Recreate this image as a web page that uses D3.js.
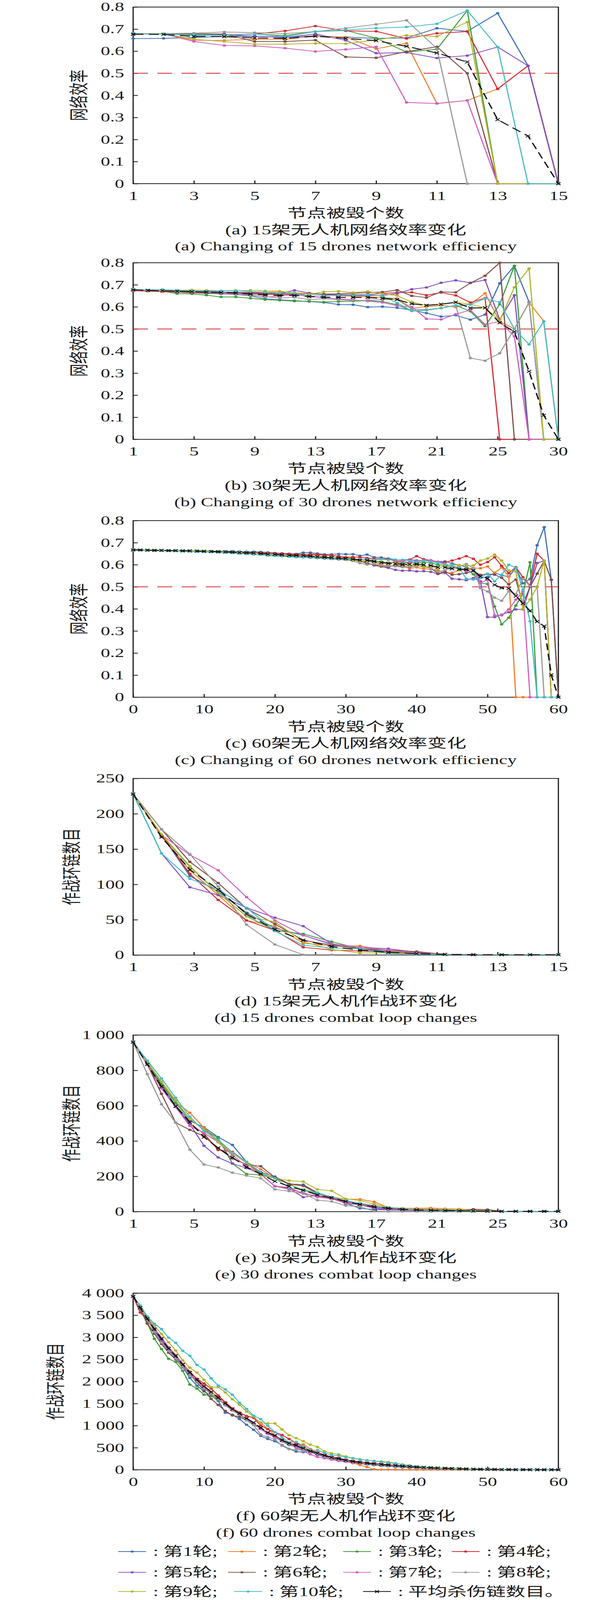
<!DOCTYPE html>
<html>
<head>
<meta charset="utf-8">
<script src="https://cdn.jsdelivr.net/npm/d3@7"></script>
<style>
  html, body { margin: 0; padding: 0; background: #fff; overflow: hidden; }
  svg { display: block; }
  svg text { font-family: "Liberation Serif", "Times New Roman", "Noto Sans CJK SC", serif; fill: #1a1a1a; }
</style>
</head>
<body>
<div id="chart"></div>
<script>
// ---- data ----
const rounds = ['第1轮', '第2轮', '第3轮', '第4轮', '第5轮', '第6轮', '第7轮', '第8轮', '第9轮', '第10轮'];
const avgLabel = '平均杀伤链数目。';
const colors = ['#3c6fb4', '#f27c2a', '#3c9e3c', '#d42a30', '#8150be', '#7d4c47', '#d05ec4', '#989898', '#b3b42b', '#46bcc9'];

const xLabels15 = ['1', '3', '5', '7', '9', '11', '13', '15'];
const xLabels30 = ['1', '5', '9', '13', '17', '21', '25', '30'];
const xLabels60 = ['0', '10', '20', '30', '40', '50', '60'];
const xTicks15 = [1, 3, 5, 7, 9, 11, 13, 15];
const xTicks60 = [0, 10, 20, 30, 40, 50, 60];

const yTicksEff = [0, 0.1, 0.2, 0.3, 0.4, 0.5, 0.6, 0.7, 0.8];
const yLabelsEff = ['0', '0.1', '0.2', '0.3', '0.4', '0.5', '0.6', '0.7', '0.8'];
const yTicksLoop15 = [0, 50, 100, 150, 200, 250];
const yLabelsLoop15 = ['0', '50', '100', '150', '200', '250'];
const yTicksLoop30 = [0, 200, 400, 600, 800, 1000];
const yLabelsLoop30 = ['0', '200', '400', '600', '800', '1 000'];
const yTicksLoop60 = [0, 500, 1000, 1500, 2000, 2500, 3000, 3500, 4000];
const yLabelsLoop60 = ['0', '500', '1 000', '1 500', '2 000', '2 500', '3 000', '3 500', '4 000'];

// (a) network efficiency, 15 drones (nodes destroyed 1..15)
const effA = [
  [0.657,0.658,0.662,0.667,0.668,0.664,0.669,0.664,0.658,0.660,0.704,0.690,0.772,0.534,0],
  [0.680,0.679,0.649,0.649,0.654,0.654,0.668,0.664,0.611,0.636,0.363,0.377,0.429,0.534,0],
  [0.680,0.679,0.672,0.672,0.678,0.671,0.689,0.694,0.659,0.596,0.609,0.784,0,0,0],
  [0.678,0.679,0.678,0.674,0.678,0.692,0.714,0.692,0.690,0.657,0.681,0.689,0.429,0.534,0],
  [0.680,0.679,0.676,0.674,0.668,0.662,0.678,0.649,0.591,0.594,0.569,0.580,0.619,0.534,0],
  [0.680,0.679,0.679,0.678,0.644,0.644,0.650,0.574,0.570,0.598,0.620,0.500,0,0,0],
  [0.680,0.679,0.644,0.626,0.624,0.614,0.599,0.608,0.620,0.368,0.363,0.377,0,0,0],
  [0.680,0.680,0.682,0.687,0.684,0.680,0.689,0.704,0.722,0.740,0.612,0,0,0,0],
  [0.680,0.680,0.654,0.644,0.632,0.632,0.635,0.634,0.651,0.672,0.667,0.732,0,0,0],
  [0.680,0.678,0.676,0.672,0.678,0.666,0.689,0.696,0.704,0.710,0.724,0.784,0.619,0,0]
];
const effAAvg = [0.677,0.676,0.667,0.666,0.660,0.658,0.668,0.658,0.648,0.622,0.592,0.551,0.290,0.216,0];

// (b) network efficiency, 30 drones
const effB = [
  [0.676,0.675,0.672,0.667,0.664,0.661,0.659,0.656,0.650,0.636, 0.632,0.628,0.624,0.620,0.611,0.610,0.599,0.601,0.596,0.585, 0.572,0.556,0.562,0.542,0.565,0.707,0.786,0.622,0,0],
  [0.675,0.673,0.671,0.669,0.668,0.667,0.666,0.665,0.666,0.667, 0.667,0.664,0.660,0.657,0.652,0.648,0.645,0.642,0.638,0.594, 0.601,0.607,0.599,0.612,0.662,0.534,0.500,0.620,0.535,0],
  [0.675,0.673,0.671,0.660,0.659,0.653,0.645,0.645,0.639,0.633, 0.630,0.626,0.625,0.622,0.624,0.626,0.628,0.624,0.610,0.581, 0.585,0.594,0.607,0.580,0.512,0.612,0.786,0,0,0],
  [0.673,0.671,0.669,0.667,0.665,0.663,0.661,0.659,0.659,0.657, 0.657,0.657,0.659,0.657,0.655,0.655,0.656,0.661,0.665,0.666, 0.653,0.665,0.652,0.620,0.640,0,0,0,0,0],
  [0.676,0.675,0.673,0.672,0.670,0.670,0.667,0.666,0.665,0.662, 0.660,0.675,0.663,0.655,0.650,0.652,0.650,0.652,0.660,0.680, 0.688,0.709,0.720,0.709,0.722,0.542,0.653,0,0,0],
  [0.676,0.675,0.673,0.671,0.669,0.667,0.665,0.664,0.662,0.661, 0.660,0.659,0.658,0.658,0.659,0.662,0.665,0.667,0.676,0.650, 0.642,0.668,0.666,0.708,0.741,0.800,0,0,0,0],
  [0.675,0.674,0.672,0.670,0.668,0.666,0.664,0.661,0.655,0.644, 0.649,0.657,0.647,0.642,0.636,0.632,0.626,0.620,0.605,0.600, 0.546,0.543,0.567,0.586,0.520,0.534,0.467,0,0,0],
  [0.676,0.674,0.672,0.670,0.668,0.665,0.662,0.656,0.653,0.646, 0.640,0.643,0.633,0.638,0.632,0.629,0.630,0.634,0.634,0.590, 0.588,0.594,0.607,0.368,0.356,0.390,0.500,0.620,0,0],
  [0.677,0.675,0.673,0.675,0.677,0.675,0.673,0.673,0.675,0.673, 0.671,0.663,0.657,0.668,0.671,0.665,0.670,0.659,0.651,0.622, 0.607,0.612,0.620,0.612,0.596,0.538,0.689,0.774,0,0],
  [0.679,0.677,0.679,0.675,0.673,0.671,0.673,0.675,0.669,0.667, 0.661,0.661,0.649,0.651,0.653,0.653,0.655,0.649,0.618,0.582, 0.586,0.594,0.607,0.610,0.638,0.621,0.500,0.430,0.534,0]
];
const effBAvg = [0.677,0.675,0.673,0.671,0.669,0.667,0.665,0.663,0.658,0.654, 0.652,0.652,0.647,0.644,0.643,0.643,0.642,0.639,0.633,0.614, 0.607,0.612,0.621,0.595,0.596,0.528,0.487,0.308,0.109,0];

// (c) network efficiency, 60 drones (nodes destroyed 0..60)
const effC = [
  [0.668,0.667,0.667,0.666,0.665,0.665,0.664,0.664,0.663,0.663,0.662,0.662,0.661,0.661,0.661,0.660,0.659,0.659,
   0.658,0.656,0.653,0.652,0.650,0.649,0.655,0.655,0.651,0.647,0.647,0.649,0.648,0.648,0.641,0.646,0.634,0.633,0.628,0.623,0.622,0.623,
   0.620,0.619,0.620,0.614,0.615,0.606,0.598,0.590,0.575,0.540,0.545,0.564,0.552,0.546,0.586,0.516,0.535,0.688,0.770,0.532,0],
  [0.667,0.667,0.666,0.665,0.665,0.664,0.663,0.663,0.662,0.661,0.660,0.659,0.658,0.657,0.656,0.655,0.654,0.653,
   0.651,0.649,0.648,0.646,0.645,0.644,0.643,0.643,0.645,0.643,0.641,0.640,0.632,0.628,0.624,0.620,0.612,0.600,0.596,0.594,0.592,0.584,
   0.588,0.582,0.580,0.576,0.562,0.564,0.575,0.582,0.585,0.584,0.592,0.562,0.588,0.546,0,0,0,0,0,0,0],
  [0.668,0.667,0.667,0.666,0.666,0.665,0.665,0.664,0.664,0.663,0.662,0.661,0.660,0.659,0.658,0.656,0.655,0.654,
   0.652,0.649,0.648,0.646,0.644,0.642,0.641,0.639,0.637,0.635,0.633,0.631,0.629,0.626,0.623,0.621,0.617,0.613,0.610,0.610,0.607,0.610,
   0.609,0.611,0.609,0.600,0.598,0.588,0.581,0.581,0.557,0.517,0.513,0.411,0.330,0.360,0.415,0.470,0.611,0,0,0,0],
  [0.667,0.667,0.666,0.665,0.665,0.664,0.663,0.663,0.662,0.662,0.661,0.660,0.659,0.658,0.657,0.656,0.655,0.655,
   0.655,0.652,0.652,0.651,0.649,0.648,0.646,0.648,0.647,0.644,0.642,0.638,0.634,0.635,0.634,0.630,0.628,0.627,0.625,0.617,0.617,0.623,
   0.639,0.625,0.620,0.612,0.611,0.619,0.628,0.639,0.627,0.600,0.612,0.634,0.595,0.562,0.589,0.543,0.506,0.650,0.618,0,0],
  [0.667,0.666,0.666,0.665,0.664,0.664,0.663,0.663,0.662,0.661,0.660,0.659,0.658,0.657,0.656,0.655,0.654,0.653,
   0.651,0.648,0.647,0.645,0.643,0.641,0.640,0.638,0.635,0.633,0.630,0.628,0.625,0.622,0.616,0.610,0.597,0.592,0.586,0.577,0.573,0.574,
   0.570,0.571,0.568,0.558,0.564,0.537,0.534,0.530,0.540,0.525,0.363,0.363,0.374,0.385,0.398,0.398,0.500,0.608,0.618,0,0],
  [0.667,0.666,0.666,0.665,0.664,0.663,0.663,0.662,0.661,0.660,0.659,0.658,0.657,0.656,0.655,0.654,0.653,0.652,
   0.650,0.646,0.644,0.642,0.638,0.636,0.634,0.632,0.630,0.628,0.626,0.624,0.622,0.620,0.617,0.606,0.600,0.592,0.590,0.598,0.593,0.590,
   0.595,0.592,0.585,0.560,0.569,0.555,0.557,0.563,0.571,0.554,0.558,0.555,0.541,0.511,0.533,0.420,0.500,0.560,0.618,0.532,0],
  [0.667,0.667,0.666,0.665,0.665,0.664,0.663,0.663,0.662,0.661,0.660,0.659,0.658,0.657,0.656,0.655,0.654,0.653,
   0.651,0.648,0.646,0.644,0.642,0.640,0.638,0.636,0.634,0.632,0.630,0.628,0.626,0.622,0.615,0.614,0.612,0.610,0.610,0.612,0.614,0.611,
   0.619,0.620,0.620,0.614,0.604,0.595,0.583,0.571,0.585,0.518,0.532,0.371,0.371,0.398,0.442,0.479,0,0,0,0,0],
  [0.667,0.666,0.666,0.665,0.664,0.664,0.663,0.662,0.662,0.661,0.660,0.659,0.658,0.657,0.656,0.654,0.653,0.652,
   0.650,0.647,0.645,0.643,0.641,0.639,0.637,0.635,0.633,0.631,0.628,0.625,0.622,0.617,0.607,0.601,0.603,0.597,0.595,0.593,0.589,0.592,
   0.595,0.590,0.585,0.568,0.576,0.585,0.594,0.603,0.585,0.494,0.479,0.451,0.437,0.480,0.467,0.537,0.503,0.502,0,0,0],
  [0.668,0.667,0.667,0.666,0.665,0.665,0.664,0.663,0.663,0.662,0.661,0.660,0.659,0.658,0.657,0.656,0.655,0.653,
   0.651,0.648,0.646,0.644,0.642,0.640,0.639,0.637,0.634,0.632,0.630,0.627,0.624,0.620,0.617,0.615,0.612,0.610,0.609,0.609,0.600,0.598,
   0.599,0.588,0.593,0.582,0.597,0.600,0.598,0.594,0.597,0.619,0.628,0.646,0.619,0.574,0.569,0.400,0.442,0.500,0.619,0,0],
  [0.666,0.666,0.665,0.664,0.664,0.663,0.662,0.661,0.660,0.659,0.658,0.657,0.656,0.655,0.653,0.651,0.649,0.647,
   0.645,0.641,0.640,0.638,0.636,0.634,0.633,0.632,0.630,0.629,0.627,0.626,0.625,0.624,0.623,0.623,0.622,0.625,0.622,0.623,0.622,0.619,
   0.612,0.619,0.614,0.609,0.602,0.597,0.585,0.537,0.533,0.541,0.560,0.525,0.555,0.600,0.586,0.486,0.344,0,0,0,0]
];
const effCAvg = [0.667,0.667,0.666,0.665,0.665,0.664,0.664,0.663,0.663,0.662,0.661,0.660,0.659,0.658,0.657,0.655,0.654,0.653,
  0.651,0.648,0.647,0.645,0.643,0.642,0.641,0.639,0.636,0.634,0.632,0.630,0.628,0.625,0.621,0.620,0.615,0.610,0.606,0.605,0.601,0.602,
  0.603,0.600,0.597,0.589,0.588,0.582,0.580,0.578,0.574,0.547,0.538,0.509,0.495,0.493,0.458,0.425,0.391,0.342,0.322,0.101,0];

// (d) combat loops, 15 drones
const loopD = [
  [228,170,112,90,60,38,28,15,9,5,2,1,0.5,0.5,0.5,0.5],
  [228,168,120,85,49,41,17,13,13,6,3,1,0.5,0.5,0.5,0.5],
  [228,170,125,88,55,35,30,19,9,4,2,1,0.5,0.5,0.5,0.5],
  [228,170,115,78,49,35,11,7,6,4,2,1,0.5,0.5,0.5,0.5],
  [228,144,96,85,67,53,41,16,11,9,4,1,0.5,0.5,0.5,0.5],
  [228,178,132,102,66,44,21,14,9,7,5,1,0.5,0.5,0.5,0.5],
  [228,170,142,120,82,49,28,16,11,7,3,1,0.5,0.5,0.5,0.5],
  [228,178,143,97,43,15,0.5,0.5,0.5,0.5,0.5,0.5,0.5,0.5,0.5,0.5],
  [228,171,126,88,55,47,19,8,3,3,2,1,0.5,0.5,0.5,0.5],
  [228,144,108,93,67,34,14,10,9,2,1,0.5,0.5,0.5,0.5,0.5]
];
const loopDAvg = [228,167,121,93,58,36,21,12,7,4,2,1,0.5,0.5,0.5,0.5];

// (e) combat loops, 30 drones
const loopE = [
  [960,844,713,601,514,478,422,378,281,223, 199,157,153,107,82,48,19,12,10,8, 6,4,3,2,2,2,2,2,2,2, 2],
  [960,848,727,621,560,475,398,337,281,240, 189,155,145,102,82,71,70,56,24,19, 19,21,17,15,10,5,2,2,2,2, 2],
  [960,844,722,616,524,465,417,273,213,208, 194,155,121,102,82,63,41,31,19,15, 10,8,6,4,3,2,2,2,2,2, 2],
  [960,834,698,592,499,441,349,339,281,213, 144,136,102,89,73,53,47,34,19,15, 10,8,6,4,3,2,2,2,2,2, 2],
  [960,834,698,592,495,373,307,272,247,213, 144,131,82,92,78,58,39,19,10,8, 5,3,2,2,2,2,2,2,2,2, 2],
  [960,834,667,504,463,427,359,301,267,257, 194,157,147,107,82,44,41,24,17,15, 12,10,10,8,14,12,2,2,2,2, 2],
  [960,834,698,592,485,446,393,320,257,213, 145,126,107,82,73,48,39,21,15,10, 8,6,4,3,2,2,2,2,2,2, 2],
  [960,779,608,504,351,267,250,221,204,189, 126,116,102,65,58,34,29,2,1,1, 1,1,1,1,1,1,1,1,1,1, 1],
  [960,844,737,630,524,465,393,330,276,204, 189,176,170,126,118,73,63,44,24,19, 16,16,16,14,5,3,2,2,2,2, 2],
  [960,855,754,645,538,456,407,335,283,218, 189,136,126,107,80,63,46,31,24,17, 10,6,4,3,2,2,2,2,2,2, 2]
];
const loopEAvg = [960,834,708,596,507,422,361,307,252,213, 172,144,121,95,78,58,41,27,19,13, 10,8,6,5,4,3,2,2,2,2, 2];

// (f) combat loops, 60 drones
const loopF = [
  [3930,3660,3400,3150,2930,2700,2530,2330,2080,1904, 1774,1683,1560,1294,1250,1150,1020,906,768,698,
   647,561,473,413,400,421,340,290,250,210, 180,160,140,120,105,90,78,66,56,48, 40,33,27,22,18,14,11,9,7,5, 4,3,2,2,1,1,0,0,0,0, 0],
  [3930,3680,3430,3200,2980,2760,2590,2400,2210,2050, 1900,1770,1640,1510,1390,1300,1217,1183,1069,924,
   780,680,610,570,576,470,390,330,280,240, 190,150,110,60,10,5,5,5,5,5, 3,3,3,2,2,2,2,1,1,1, 1,1,1,0,0,0,0,0,0,0, 0],
  [3930,3666,3329,2966,2733,2513,2443,2241,1930,1839, 1701,1670,1590,1480,1350,1250,1130,1020,930,820,
   740,640,560,520,450,400,355,310,265,240, 205,180,160,140,125,110,98,85,72,62, 53,45,38,32,27,22,18,14,11,9, 7,5,4,3,2,2,1,1,0,0, 0],
  [3930,3562,3400,3180,2960,2760,2590,2400,2220,2060, 1955,1839,1683,1530,1390,1290,1217,1178,1000,920,
   850,789,698,600,520,440,390,340,290,265, 228,200,178,160,145,130,115,102,90,78, 68,58,50,43,36,30,25,20,16,13, 10,8,6,5,4,3,2,2,1,1, 0],
  [3930,3670,3410,3170,2940,2720,2550,2360,2180,2000, 1850,1720,1600,1470,1350,1260,1150,1050,930,830,
   750,660,590,530,470,400,340,290,250,215, 190,170,150,130,115,100,88,76,65,56, 48,41,35,30,25,21,17,14,11,9, 7,5,4,3,2,2,1,1,0,0, 0],
  [3930,3640,3308,3083,2850,2650,2500,2320,2150,1980, 1800,1605,1468,1333,1230,1200,1120,1040,940,840,
   770,680,600,550,480,420,370,320,275,250, 212,186,165,148,133,118,105,93,80,70, 61,53,46,40,34,28,23,19,15,12, 10,8,6,5,4,3,2,2,1,1, 0],
  [3930,3680,3440,3200,2990,2780,2600,2400,2200,2020, 1860,1730,1600,1460,1340,1250,1150,1050,920,810,
   740,650,590,500,420,350,290,260,230,200, 180,160,145,130,115,100,88,76,65,56, 48,41,35,30,25,21,17,14,11,9, 7,5,4,3,2,2,1,1,0,0, 0],
  [3930,3660,3400,3120,2880,2690,2520,2330,2150,1990, 1840,1720,1600,1470,1350,1250,1120,1010,802,742,
   690,543,465,452,439,400,360,300,260,230, 200,175,155,135,118,103,90,78,67,57, 49,42,36,30,25,21,17,14,11,9, 7,5,4,3,2,2,1,1,0,0, 0],
  [3930,3692,3459,3257,3075,2889,2702,2479,2313,2202, 2038,1873,1873,1753,1598,1476,1320,1204,1053,1053,
   1050,913,784,717,647,569,517,418,374,348, 302,258,240,215,195,190,175,150,120,100, 75,60,50,45,40,35,30,25,20,15, 10,8,6,4,3,2,2,1,1,0, 0],
  [3930,3723,3472,3308,3187,2992,2876,2694,2583,2375, 2272,2072,1909,1821,1701,1520,1380,1225,1147,996,
   854,737,620,633,530,439,447,380,336,317, 284,266,232,215,200,180,160,140,120,100, 80,60,50,40,32,25,20,16,12,9, 7,5,4,3,2,2,1,1,1,0, 0]
];
const loopFAvg = [3930,3671,3420,3187,2966,2746,2578,2383,2202,2038, 1891,1761,1632,1502,1372,1276,1165,1069,950,846,
  776,672,602,556,491,421,374,323,278,252, 214,188,167,150,135,120,108,95,82,72, 62,54,47,40,34,28,23,19,15,12, 10,8,6,5,4,3,2,2,1,1, 0];

// ---- layout ----
const width = 1575, height = 6242;
const L = 341, W = 1089, H = 689;

// the figure is laid out on a 1575 x 6242 canvas; if the window is shorter
// than that, the whole canvas is fitted to the window height so nothing is cut
const shownHeight = Math.min(height, window.innerHeight || height);

const svg = d3.select('#chart')
  .append('svg')
    .attr('width', width)
    .attr('height', shownHeight)
    .attr('viewBox', [0, 0, width, height])
    .attr('preserveAspectRatio', 'none');

svg.append('rect').attr('width', width).attr('height', height).attr('fill', '#fff');

const panels = [
  { top: 27.5, series: effA, avg: effAAvg, x0: 1, ref: 0.5,
    tickScale: d3.scaleLinear().domain([1, 15]).range([0, W]), tickValues: xTicks15, xLabels: xLabels15,
    yTicks: yTicksEff, yLabels: yLabelsEff, yTitle: '网络效率', yTitleX: 203,
    cn: '(a) 15架无人机网络效率变化', en: '(a) Changing of 15 drones network efficiency' },
  { top: 1025, series: effB, avg: effBAvg, x0: 0, ref: 0.5,
    tickScale: d3.scalePoint().domain(xLabels30).range([0, W]), tickValues: xLabels30, xLabels: xLabels30,
    yTicks: yTicksEff, yLabels: yLabelsEff, yTitle: '网络效率', yTitleX: 203,
    cn: '(b) 30架无人机网络效率变化', en: '(b) Changing of 30 drones network efficiency' },
  { top: 2031, series: effC, avg: effCAvg, x0: 0, ref: 0.5,
    tickScale: d3.scaleLinear().domain([0, 60]).range([0, W]), tickValues: xTicks60, xLabels: xLabels60,
    yTicks: yTicksEff, yLabels: yLabelsEff, yTitle: '网络效率', yTitleX: 203,
    cn: '(c) 60架无人机网络效率变化', en: '(c) Changing of 60 drones network efficiency' },
  { top: 3037, series: loopD, avg: loopDAvg, x0: 0, ref: null,
    tickScale: d3.scalePoint().domain(xLabels15).range([0, W]), tickValues: xLabels15, xLabels: xLabels15,
    yTicks: yTicksLoop15, yLabels: yLabelsLoop15, yTitle: '作战环链数目', yTitleX: 184,
    cn: '(d) 15架无人机作战环变化', en: '(d) 15 drones combat loop changes' },
  { top: 4038, series: loopE, avg: loopEAvg, x0: 0, ref: null,
    tickScale: d3.scalePoint().domain(xLabels30).range([0, W]), tickValues: xLabels30, xLabels: xLabels30,
    yTicks: yTicksLoop30, yLabels: yLabelsLoop30, yTitle: '作战环链数目', yTitleX: 184,
    cn: '(e) 30架无人机作战环变化', en: '(e) 30 drones combat loop changes' },
  { top: 5045, series: loopF, avg: loopFAvg, x0: 0, ref: null,
    tickScale: d3.scaleLinear().domain([0, 60]).range([0, W]), tickValues: xTicks60, xLabels: xLabels60,
    yTicks: yTicksLoop60, yLabels: yLabelsLoop60, yTitle: '作战环链数目', yTitleX: 143,
    cn: '(f) 60架无人机作战环变化', en: '(f) 60 drones combat loop changes' }
];

const crossPath = s => `M${-s},${-s}L${s},${s}M${-s},${s}L${s},${-s}`;

function drawPanel(p) {
  const g = svg.append('g').attr('transform', `translate(${L},${p.top})`);

  const x = d3.scaleLinear().domain([p.x0, p.x0 + p.avg.length - 1]).range([0, W]);
  const y = d3.scaleLinear().domain([0, p.yTicks[p.yTicks.length - 1]]).range([H, 0]);

  // axes with inward ticks
  const xAxis = g.append('g')
    .attr('transform', `translate(0,${H})`)
    .call(d3.axisBottom(p.tickScale).tickValues(p.tickValues)
      .tickFormat((d, i) => p.xLabels[i]).tickSize(-12).tickPadding(29));
  const yAxis = g.append('g')
    .call(d3.axisLeft(y).tickValues(p.yTicks)
      .tickFormat((d, i) => p.yLabels[i]).tickSize(-12).tickPadding(23));

  [xAxis, yAxis].forEach(a => {
    a.select('.domain').remove();
    a.selectAll('.tick line').attr('stroke', '#1a1a1a').attr('stroke-width', 3);
    a.selectAll('.tick text').attr('font-size', 48).attr('fill', '#1a1a1a')
      .style('font-family', '"Liberation Serif", "Times New Roman", serif');
  });

  g.append('rect')
    .attr('width', W).attr('height', H)
    .attr('fill', 'none').attr('stroke', '#1a1a1a').attr('stroke-width', 3);

  if (p.ref !== null) {
    g.append('line')
      .attr('x1', 0).attr('x2', W)
      .attr('y1', y(p.ref)).attr('y2', y(p.ref))
      .attr('stroke', '#d62728').attr('stroke-width', 3)
      .attr('stroke-dasharray', '38,24');
  }

  const line = d3.line().x((d, i) => x(p.x0 + i)).y(d => y(d));

  const runs = g.selectAll('g.run')
    .data(p.series)
    .join('g')
      .attr('class', 'run');

  runs.append('path')
    .attr('d', d => line(d))
    .attr('fill', 'none')
    .attr('stroke', (d, i) => colors[i])
    .attr('stroke-width', 3)
    .attr('stroke-linejoin', 'round');

  runs.each(function (d, k) {
    d3.select(this).selectAll('circle')
      .data(d)
      .join('circle')
        .attr('cx', (v, i) => x(p.x0 + i))
        .attr('cy', v => y(v))
        .attr('r', 4.5)
        .attr('fill', colors[k]);
  });

  // average: black dashed with x markers
  g.append('path')
    .attr('d', line(p.avg))
    .attr('fill', 'none')
    .attr('stroke', '#111')
    .attr('stroke-width', 3.5)
    .attr('stroke-dasharray', '26,14');

  g.selectAll('path.avgmark')
    .data(p.avg)
    .join('path')
      .attr('class', 'avgmark')
      .attr('transform', (v, i) => `translate(${x(p.x0 + i)},${y(v)})`)
      .attr('d', crossPath(5.5))
      .attr('stroke', '#111')
      .attr('stroke-width', 2.6);

  // titles
  g.append('text')
    .attr('x', W / 2).attr('y', H + 115)
    .attr('text-anchor', 'middle').attr('dominant-baseline', 'central')
    .attr('font-size', 50)
    .text('节点被毁个数');

  g.append('text')
    .attr('transform', `translate(${p.yTitleX - L},${H / 2}) rotate(-90)`)
    .attr('text-anchor', 'middle').attr('dominant-baseline', 'central')
    .attr('font-size', 50)
    .text(p.yTitle);

  g.append('text')
    .attr('x', W / 2).attr('y', H + 180)
    .attr('text-anchor', 'middle').attr('dominant-baseline', 'central')
    .attr('font-size', 50)
    .text(p.cn);

  g.append('text')
    .attr('x', W / 2).attr('y', H + 245)
    .attr('text-anchor', 'middle').attr('dominant-baseline', 'central')
    .attr('font-size', 48)
    .text(p.en);
}

panels.forEach(drawPanel);

// ---- legend ----
const legendItems = rounds.map((r, i) => ({ label: ': ' + r + ';', color: colors[i], avg: false }))
  .concat([{ label: ': ' + avgLabel, color: '#111', avg: true }]);
const legendPos = [
  [303, 6053], [584, 6053], [879, 6053], [1157, 6053],
  [303, 6134], [584, 6134], [879, 6134], [1157, 6134],
  [303, 6209], [600, 6209], [930, 6209]
];
const legendLen = 71;

const legend = svg.append('g')
  .selectAll('g')
  .data(legendItems)
  .join('g')
    .attr('transform', (d, i) => `translate(${legendPos[i][0]},${legendPos[i][1]})`);

legend.append('line')
  .attr('x1', 0).attr('x2', legendLen)
  .attr('stroke', d => d.color)
  .attr('stroke-width', 3);

legend.filter(d => !d.avg).append('circle')
  .attr('cx', legendLen / 2).attr('r', 4)
  .attr('fill', d => d.color);

legend.filter(d => d.avg).append('path')
  .attr('transform', `translate(${legendLen / 2},0)`)
  .attr('d', crossPath(5))
  .attr('stroke', '#111').attr('stroke-width', 2.6);

legend.append('text')
  .attr('x', legendLen + 18)
  .attr('dominant-baseline', 'central')
  .attr('font-size', 50)
  .text(d => d.label);
</script>
</body>
</html>
